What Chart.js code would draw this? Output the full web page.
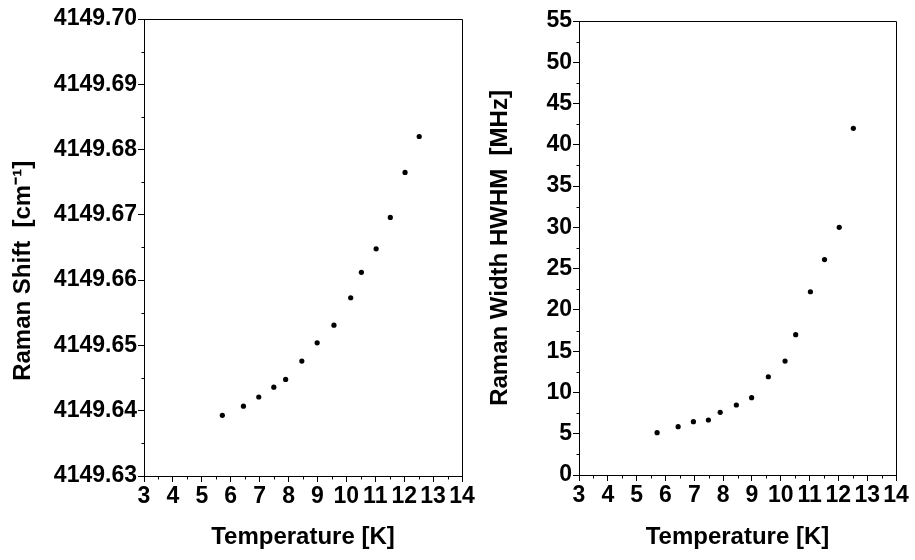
<!DOCTYPE html>
<html>
<head>
<meta charset="utf-8">
<script src="https://cdn.jsdelivr.net/npm/chart.js@4/dist/chart.umd.min.js"></script>
<style>
  body { margin: 0; width: 915px; height: 560px; background: #fff; position: relative; overflow: hidden; }
  canvas { position: absolute; top: 0; }
</style>
</head>
<body>
<canvas id="shiftChart" width="485" height="560" style="left:0px"></canvas>
<canvas id="widthChart" width="455" height="560" style="left:460px"></canvas>
<script>
// temperatures [K], shared by both panels
const temps = [5.71, 6.44, 6.97, 7.49, 7.90, 8.46, 8.99, 9.57, 10.15, 10.52, 11.03, 11.52, 12.03, 12.52];
// left panel: Raman shift [cm-1]
const shiftVals = [4149.6393, 4149.6407, 4149.6421, 4149.6436, 4149.6448, 4149.6476, 4149.6504,
                   4149.6531, 4149.6573, 4149.6612, 4149.6648, 4149.6696, 4149.6765, 4149.6820];
// right panel: Raman width HWHM [MHz]
const widthVals = [5.13, 5.85, 6.46, 6.66, 7.59, 8.48, 9.37, 11.9, 13.8, 17.0, 22.2, 26.1, 30.0, 42.0];

const tickFont = { family: "'Liberation Sans', Arial, sans-serif", weight: 'bold', size: 23 };
const titleFont = { family: "'Liberation Sans', Arial, sans-serif", weight: 'bold', size: 24 };

// box on top/right plus the short minor ticks
const frame = {
  id: 'frame',
  afterDraw(chart, args, opts) {
    const { ctx, chartArea: a, scales: { x, y } } = chart;
    const r = v => Math.round(v) + 0.5;
    ctx.save();
    ctx.strokeStyle = '#000';
    ctx.lineWidth = 1;
    ctx.beginPath();
    ctx.moveTo(r(a.left), r(a.top));
    ctx.lineTo(r(a.right), r(a.top));
    ctx.lineTo(r(a.right), r(a.bottom));
    for (let v = x.min + opts.xMinor; v < x.max; v += 2 * opts.xMinor) {
      const px = r(x.getPixelForValue(v));
      ctx.moveTo(px, r(a.bottom));
      ctx.lineTo(px, r(a.bottom) + 3);
    }
    for (let v = y.min + opts.yMinor; v < y.max; v += 2 * opts.yMinor) {
      const py = r(y.getPixelForValue(v));
      ctx.moveTo(r(a.left), py);
      ctx.lineTo(r(a.left) - 3, py);
    }
    ctx.stroke();
    ctx.restore();
  }
};

function drawPanel(id, values, yOpts, yTitle, yAxisWidth, titlePad, layoutPad, minor) {
  const points = temps.map((t, i) => ({ x: t, y: values[i] }));
  const grid = { drawOnChartArea: false, color: '#000', tickLength: 6, tickColor: '#000' };
  const config = {
    type: 'scatter',
    data: {
      datasets: [{
        data: points,
        pointRadius: 2.6,
        pointHoverRadius: 2.6,
        backgroundColor: '#000',
        borderWidth: 0
      }]
    },
    options: {
      responsive: false,
      animation: false,
      devicePixelRatio: 1,
      layout: { padding: layoutPad },
      plugins: { legend: { display: false }, tooltip: { enabled: false }, frame: minor },
      scales: {
        x: {
          type: 'linear',
          min: 3,
          max: 14,
          grid: grid,
          border: { color: '#000', width: 1 },
          ticks: { stepSize: 1, autoSkip: false, maxRotation: 0, minRotation: 0, padding: 1,
                   color: '#000', font: tickFont, callback: v => String(v) },
          title: { display: true, text: 'Temperature [K]', color: '#000', font: titleFont,
                   padding: { top: 0, bottom: 8 } },
          afterFit: s => { s.height = 560 - layoutPad.top - (layoutPad.plotH || 0); }
        },
        y: {
          type: 'linear',
          min: yOpts.min,
          max: yOpts.max,
          grid: grid,
          border: { color: '#000', width: 1 },
          ticks: { stepSize: yOpts.step, autoSkip: false, padding: 1, color: '#000', font: tickFont,
                   callback: v => Number(v).toFixed(yOpts.digits) },
          title: { display: true, text: yTitle, color: '#000', font: titleFont,
                   padding: { top: titlePad, bottom: 0 } },
          afterFit: s => { s.width = yAxisWidth; }
        }
      }
    },
    plugins: [frame]
  };
  return new Chart(document.getElementById(id), config);
}

drawPanel('shiftChart', shiftVals,
  { min: 4149.63, max: 4149.70, step: 0.01, digits: 2 },
  'Raman Shift  [cm\u207B\u00B9]       ', 144, 9,
  { top: 19, right: 23, left: 0, bottom: 0, plotH: 457 },
  { xMinor: 0.5, yMinor: 0.005 });

drawPanel('widthChart', widthVals,
  { min: 0, max: 55, step: 5, digits: 0 },
  'Raman Width HWHM  [MHz]', 119, 26,
  { top: 21, right: 19, left: 0, bottom: 0, plotH: 454 },
  { xMinor: 0.5, yMinor: 2.5 });
</script>
</body>
</html>
